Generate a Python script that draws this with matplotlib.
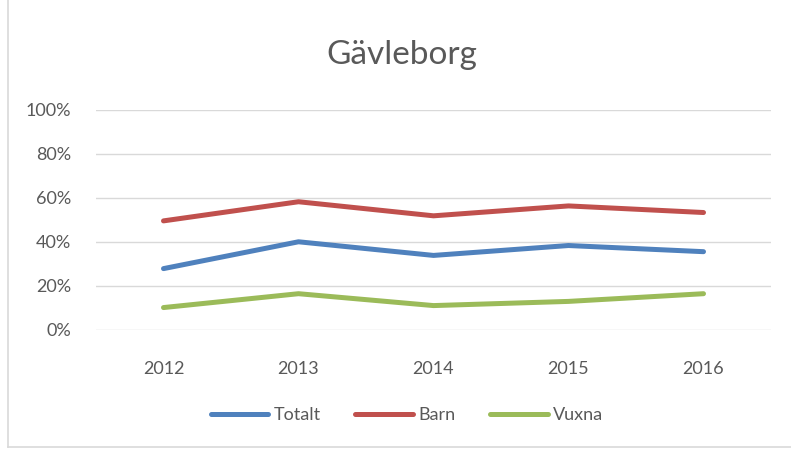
import matplotlib
matplotlib.use("Agg")
import matplotlib.pyplot as plt
from matplotlib.lines import Line2D
from matplotlib.ticker import PercentFormatter

years = ["2012", "2013", "2014", "2015", "2016"]
totalt = [27.9, 40.1, 33.9, 38.4, 35.6]
barn = [49.6, 58.3, 51.9, 56.4, 53.4]
vuxna = [10.2, 16.5, 11.1, 13.0, 16.5]

plt.rcParams['font.family'] = ['Lato', 'DejaVu Sans']

fig = plt.figure(figsize=(7.91, 4.54), dpi=100)
ax = fig.add_axes([96 / 791, 1 - 330 / 454, 675 / 791, 220 / 454])

x = range(len(years))
ax.plot(x, totalt, color="#4F81BD", lw=3.6, label="Totalt", solid_capstyle="round")
ax.plot(x, barn, color="#C0504D", lw=3.6, label="Barn", solid_capstyle="round")
ax.plot(x, vuxna, color="#9BBB59", lw=3.6, label="Vuxna", solid_capstyle="round")

ax.set_xlim(-0.5, len(years) - 0.5)
ax.set_ylim(0, 100)
ax.set_yticks(range(0, 101, 20))
ax.yaxis.set_major_formatter(PercentFormatter(decimals=0))
ax.set_xticks(list(x))
ax.set_xticklabels(years)
ax.grid(axis="y", color="#D9D9D9", lw=1)
ax.set_axisbelow(True)
for s in ax.spines.values():
    s.set_visible(False)
ax.tick_params(length=0, labelsize=13, colors="#595959")
ax.tick_params(axis="x", pad=22)
ax.tick_params(axis="y", pad=18)

fig.text(402 / 791, 1 - 55 / 454, "Gävleborg", ha="center", va="center",
         fontsize=24, color="#595959")

fig.legend(loc="center", bbox_to_anchor=(407 / 791, 1 - 415 / 454), ncol=3,
           frameon=False, fontsize=13, handlelength=3.2, columnspacing=1.9,
           handletextpad=0.3, labelcolor="#595959")

# thin frame lines at left and bottom of the picture
fig.add_artist(Line2D([8 / 791, 8 / 791], [1 - 447 / 454, 1], color="#D9D9D9", lw=1.2))
fig.add_artist(Line2D([8 / 791, 1], [1 - 447 / 454, 1 - 447 / 454], color="#D9D9D9", lw=1.2))

fig.savefig("out.png", dpi=100)
